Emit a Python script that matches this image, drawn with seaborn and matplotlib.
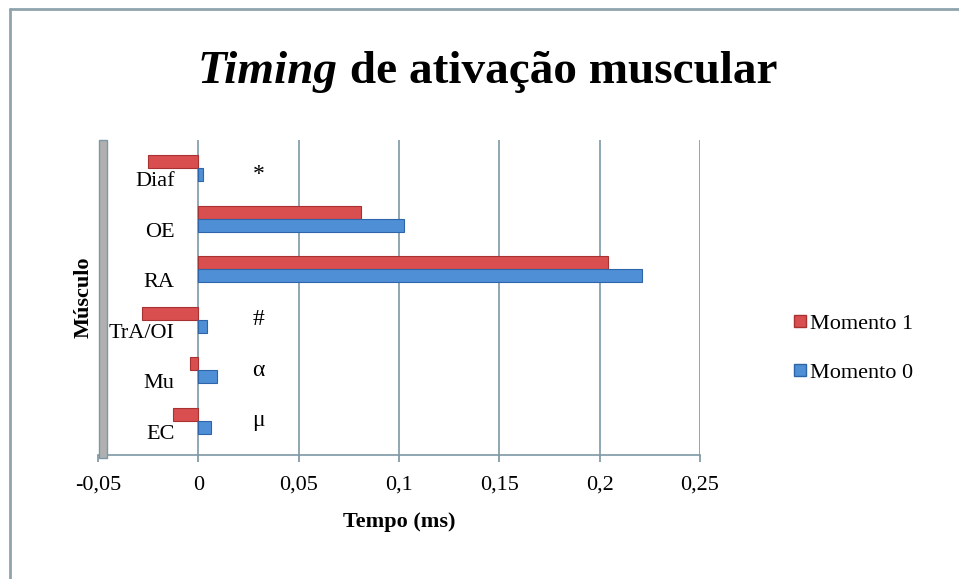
import matplotlib
matplotlib.use("Agg")
import matplotlib.pyplot as plt
import matplotlib.transforms as mtransforms
from matplotlib.patches import Rectangle
from matplotlib.lines import Line2D
import seaborn as sns
import pandas as pd

# ---- data ----
categories = ["Diaf", "OE", "RA", "TrA/OI", "Mu", "EC"]
momento_1 = [-0.025, 0.081, 0.204, -0.028, -0.004, -0.0125]
momento_0 = [0.0025, 0.1025, 0.221, 0.0045, 0.0095, 0.0065]
series_names = ["Momento 1", "Momento 0"]
x_ticks = [-0.05, 0, 0.05, 0.1, 0.15, 0.2, 0.25]
x_tick_labels = ["-0,05", "0", "0,05", "0,1", "0,15", "0,2", "0,25"]
marks = {"Diaf": "*", "TrA/OI": "#", "Mu": "α", "EC": "μ"}

df = pd.DataFrame({
    "Músculo": categories * 2,
    "Tempo": momento_1 + momento_0,
    "Momento": [series_names[0]] * len(categories) + [series_names[1]] * len(categories),
})

sns.set_theme(style="white")
plt.rcParams["font.family"] = ["Liberation Serif", "DejaVu Serif"]
plt.rcParams["text.color"] = "black"
plt.rcParams["axes.labelcolor"] = "black"
plt.rcParams["xtick.color"] = "black"
plt.rcParams["ytick.color"] = "black"

red = "#d94f4f"
blue = "#4f8fd6"
grid_c = "#7d98a4"

fig = plt.figure(figsize=(9.59, 5.79), dpi=100)
W, H = 959, 579
ax = fig.add_axes([98 / W, 1 - 455 / H, 602 / W, 315 / H])

sns.barplot(data=df, y="Músculo", x="Tempo", hue="Momento", hue_order=series_names,
            order=categories, palette=[red, blue], orient="h", width=0.52, gap=0,
            ax=ax, legend=False, saturation=1)
for p, ec in zip(ax.patches, ["#a83232"] * 6 + ["#2d65a8"] * 6):
    p.set_edgecolor(ec)
    p.set_linewidth(0.8)

ax.set_xlim(-0.05, 0.25)
ax.set_ylim(5.68, -0.56)
ax.set_xticks(x_ticks)
ax.set_xticklabels(x_tick_labels, fontsize=16)
ax.grid(False)
for xv in x_ticks[1:]:
    ax.axvline(xv, color=grid_c, lw=1.2, zorder=0)

for s in ["top", "right"]:
    ax.spines[s].set_visible(False)
ax.spines["left"].set_position(("data", 0))
ax.spines["left"].set_visible(False)
ax.spines["bottom"].set_color(grid_c)
ax.spines["bottom"].set_linewidth(1.2)
ax.tick_params(axis="x", which="both", bottom=True, length=5, color=grid_c,
               labelcolor="black", pad=10)
ax.tick_params(axis="y", length=0, pad=17, labelsize=16, labelcolor="black")
offset = mtransforms.ScaledTranslation(0, -8 / 72, fig.dpi_scale_trans)
for lab in ax.get_yticklabels():
    lab.set_transform(lab.get_transform() + offset)

ax.set_xlabel("Tempo (ms)", fontsize=16, fontweight="bold", labelpad=12, color="black")
ax.set_ylabel("Músculo", fontsize=16, fontweight="bold", color="black")
ax.yaxis.set_label_coords(-0.007, 0.5)

for cat, sym in marks.items():
    dy = 0.12 if sym == "*" else 0
    ax.text(0.03, categories.index(cat) + dy, sym, fontsize=17, ha="center",
            va="center", color="black")

# 3D-style left wall
wall = Rectangle((99 / W, 1 - 458 / H), 8 / W, 318 / H, transform=fig.transFigure,
                 facecolor="#b0b0b0", edgecolor=grid_c, lw=1.0, zorder=3)
fig.patches.append(wall)

# outer frame (left & top edges)
fig.add_artist(Line2D([10 / W, 10 / W], [0, 1 - 9 / H], transform=fig.transFigure,
                      color="#8fa3ad", lw=2))
fig.add_artist(Line2D([10 / W, 1], [1 - 9 / H, 1 - 9 / H], transform=fig.transFigure,
                      color="#8fa3ad", lw=2))

# title with italic first word
t1 = fig.text(198 / W, 1 - 72 / H, "Timing", fontsize=34, fontweight="bold",
              fontstyle="italic", ha="left", va="center", color="black")
fig.canvas.draw()
ax.annotate(" de ativação muscular", xy=(1, 0.5), xycoords=t1, fontsize=34,
            fontweight="bold", ha="left", va="center", annotation_clip=False,
            color="black")

handles = [Line2D([], [], marker="s", ls="", markersize=9, markerfacecolor=c,
                  markeredgecolor=e) for c, e in [(red, "#a83232"), (blue, "#2d65a8")]]
fig.legend(handles, series_names, loc="center left", bbox_to_anchor=(782 / W, 1 - 348 / H),
           frameon=False, fontsize=16, handlelength=0.6, handletextpad=0.15,
           labelspacing=1.3, borderpad=0, labelcolor="black")

fig.savefig("out.png", dpi=100)
